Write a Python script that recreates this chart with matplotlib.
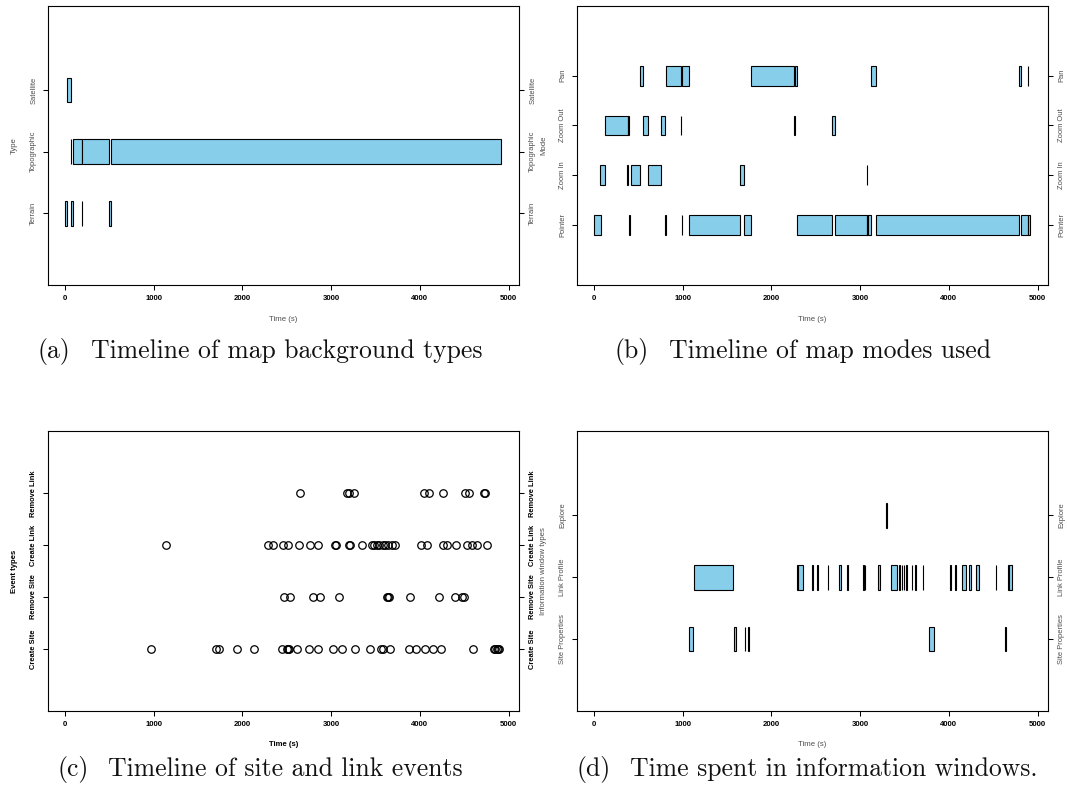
import matplotlib
matplotlib.use("Agg")
import matplotlib.pyplot as plt

# ---------------------------------------------------------------- data
time_ticks = [0, 1000, 2000, 3000, 4000, 5000]
session_end = 4918

# (a) map background type, intervals (start, end) in seconds
bg_types = ["Terrain", "Topographic", "Satellite"]
bg_terrain = [(0, 25), (70, 93), (188, 193), (497, 520)]
bg_topographic = [(62, 70), (93, 188), (193, 497), (520, 4915)]
bg_satellite = [(25, 62)]

# (b) map interaction mode
modes = ["Pointer", "Zoom In", "Zoom Out", "Pan"]
mode_pointer = [(0, 72), (396, 402), (803, 809), (989, 995), (1069, 1647),
                (1690, 1773), (2284, 2679), (2716, 3074), (3080, 3090),
                (3093, 3122), (3178, 4792), (4811, 4893), (4896, 4918)]
mode_zoom_in = [(68, 123), (374, 386), (410, 515), (609, 759), (1646, 1692),
                (3074, 3080)]
mode_zoom_out = [(123, 383), (386, 398), (552, 609), (759, 802), (978, 985),
                 (2254, 2261), (2679, 2716)]
mode_pan = [(515, 552), (809, 975), (996, 1069), (1773, 2251), (2262, 2284),
            (3122, 3178), (4792, 4811), (4893, 4896)]

# (c) site and link events, time stamps in seconds
event_types = ["Create Site", "Remove Site", "Create Link", "Remove Link"]
ev_create_site = [970, 1697, 1740, 1940, 2130, 2449, 2500, 2518, 2530, 2615,
                  2752, 2850, 3018, 3118, 3270, 3434, 3557, 3582, 3669, 3880,
                  3962, 4060, 4152, 4238, 4603, 4835, 4852, 4868, 4882, 4897]
ev_remove_site = [2470, 2535, 2793, 2869, 3090, 3633, 3643, 3655, 3890, 4215,
                  4399, 4480, 4497]
ev_create_link = [1132, 2285, 2345, 2462, 2518, 2638, 2757, 2857, 3039, 3058,
                  3205, 3216, 3345, 3455, 3485, 3512, 3538, 3588, 3612, 3636,
                  3690, 3715, 4017, 4079, 4266, 4304, 4410, 4529, 4592, 4648,
                  4756]
ev_remove_link = [2653, 3181, 3198, 3262, 4042, 4098, 4260, 4507, 4552, 4728,
                  4738]

# (d) information windows open
window_types = ["Site Properties", "Link Profile", "Explore"]
win_site_properties = [(1070, 1119), (1574, 1600), (1700, 1705), (1738, 1743),
                       (3775, 3831), (4633, 4640)]
win_link_profile = [(1131, 1567), (2292, 2300), (2302, 2355), (2459, 2464),
                    (2515, 2520), (2635, 2640), (2761, 2788), (2853, 2858),
                    (3033, 3038), (3053, 3058), (3204, 3227), (3347, 3415),
                    (3443, 3448), (3469, 3474), (3492, 3497), (3518, 3523),
                    (3582, 3590), (3617, 3625), (3709, 3714), (4014, 4019),
                    (4074, 4079), (4151, 4188), (4226, 4252), (4301, 4339),
                    (4529, 4534), (4667, 4680), (4683, 4716)]
win_explore = [(3293, 3298)]

captions = ["(a)", "(b)", "(c)", "(d)"]
caption_texts = ["Timeline of map background types",
                 "Timeline of map modes used",
                 "Timeline of site and link events",
                 "Time spent in information windows."]

# ---------------------------------------------------------------- style
W, H, DPI = 1067, 791, 100
SKY = "#87CEEB"
GREY = "#4d4d4d"
plt.rcParams["font.family"] = ["Liberation Sans", "DejaVu Sans"]

fig = plt.figure(figsize=(W / DPI, H / DPI), dpi=DPI)
fig.patch.set_facecolor("white")


def px_axes(left, top, right, bottom):
    return fig.add_axes([left / W, 1 - bottom / H, (right - left) / W,
                         (bottom - top) / H])


def r_pad(lo, hi):
    d = (hi - lo) * 0.04
    return lo - d, hi + d


def style(ax, labels, ylim_top, ylabel, bold=False):
    ax.set_xlim(*r_pad(0, session_end))
    ax.set_ylim(*r_pad(0, ylim_top))
    for s in ax.spines.values():
        s.set_linewidth(0.8)
        s.set_color("black")
    ax.set_xticks(time_ticks)
    ax.set_xticklabels([str(t) for t in time_ticks], fontsize=5.6,
                       fontweight="bold")
    ax.tick_params(axis="x", length=3.6, width=0.75, pad=3.6, direction="out")
    ax.set_yticks(range(1, len(labels) + 1))
    ax.set_yticklabels(labels, rotation=90, va="center", fontsize=5.4,
                       color="black" if bold else GREY,
                       fontweight="bold" if bold else "normal")
    ax.tick_params(axis="y", left=True, right=True, labelleft=True,
                   labelright=True, length=3.6, width=0.75, pad=4.0,
                   direction="out")
    weight = "bold" if bold else "normal"
    col = "black" if bold else GREY
    ax.annotate("Time (s)", xy=(0.5, 0), xycoords="axes fraction",
                xytext=(0, -34), textcoords="offset pixels", ha="center",
                va="center", fontsize=5.6, fontweight=weight, color=col)
    ax.annotate(ylabel, xy=(0, 0.5), xycoords="axes fraction",
                xytext=(-33, 0), textcoords="offset pixels", ha="center",
                va="center", rotation=90, fontsize=5.6, fontweight=weight,
                color=col)


def bars(ax, level, intervals):
    ax.barh([level] * len(intervals), [e - s for s, e in intervals],
            left=[s for s, e in intervals], height=0.4, color=SKY,
            edgecolor="black", linewidth=0.8)


# (a) background types
ax_a = px_axes(47.7, 5.5, 518.7, 285.3)
for lvl, iv in enumerate([bg_terrain, bg_topographic, bg_satellite], 1):
    bars(ax_a, lvl, iv)
style(ax_a, bg_types, len(bg_types) + 1.2, "Type")

# (b) modes
ax_b = px_axes(576.7, 5.5, 1047.7, 285.3)
for lvl, iv in enumerate([mode_pointer, mode_zoom_in, mode_zoom_out, mode_pan], 1):
    bars(ax_b, lvl, iv)
style(ax_b, modes, len(modes) + 1.2, "Mode")

# (c) site / link events
ax_c = px_axes(47.7, 431, 518.7, 711)
for lvl, ts in enumerate([ev_create_site, ev_remove_site, ev_create_link,
                          ev_remove_link], 1):
    ax_c.plot(ts, [lvl] * len(ts), "o", mfc="none", mec="black", ms=5.4,
              mew=0.9)
style(ax_c, event_types, len(event_types) + 1, "Event types", bold=True)

# (d) information windows
ax_d = px_axes(576.7, 431, 1047.7, 711)
for lvl, iv in enumerate([win_site_properties, win_link_profile, win_explore], 1):
    bars(ax_d, lvl, iv)
style(ax_d, window_types, len(window_types) + 1.2, "Information window types")

# sub-figure captions: label, then the caption text one gap further right,
# the whole line centred under its sub-figure
cap_font = dict(family=["cmr10", "DejaVu Serif"], fontsize=18.5, va="baseline",
                color="#111111")
cap_centres = [(260, 358), (803, 358), (260, 776), (807, 776)]
label_gap = 20  # pixels between label and caption text
renderer = fig.canvas.get_renderer()
for lab, txt, (xc, yb) in zip(captions, caption_texts, cap_centres):
    t_lab = fig.text(0, 1 - yb / H, lab, ha="left", **cap_font)
    t_txt = fig.text(0, 1 - yb / H, txt, ha="left", **cap_font)
    w_lab = t_lab.get_window_extent(renderer).width
    w_txt = t_txt.get_window_extent(renderer).width
    x0 = xc - (w_lab + label_gap + w_txt) / 2
    t_lab.set_x(x0 / W)
    t_txt.set_x((x0 + w_lab + label_gap) / W)

fig.savefig("out.png", dpi=DPI, facecolor="white")
